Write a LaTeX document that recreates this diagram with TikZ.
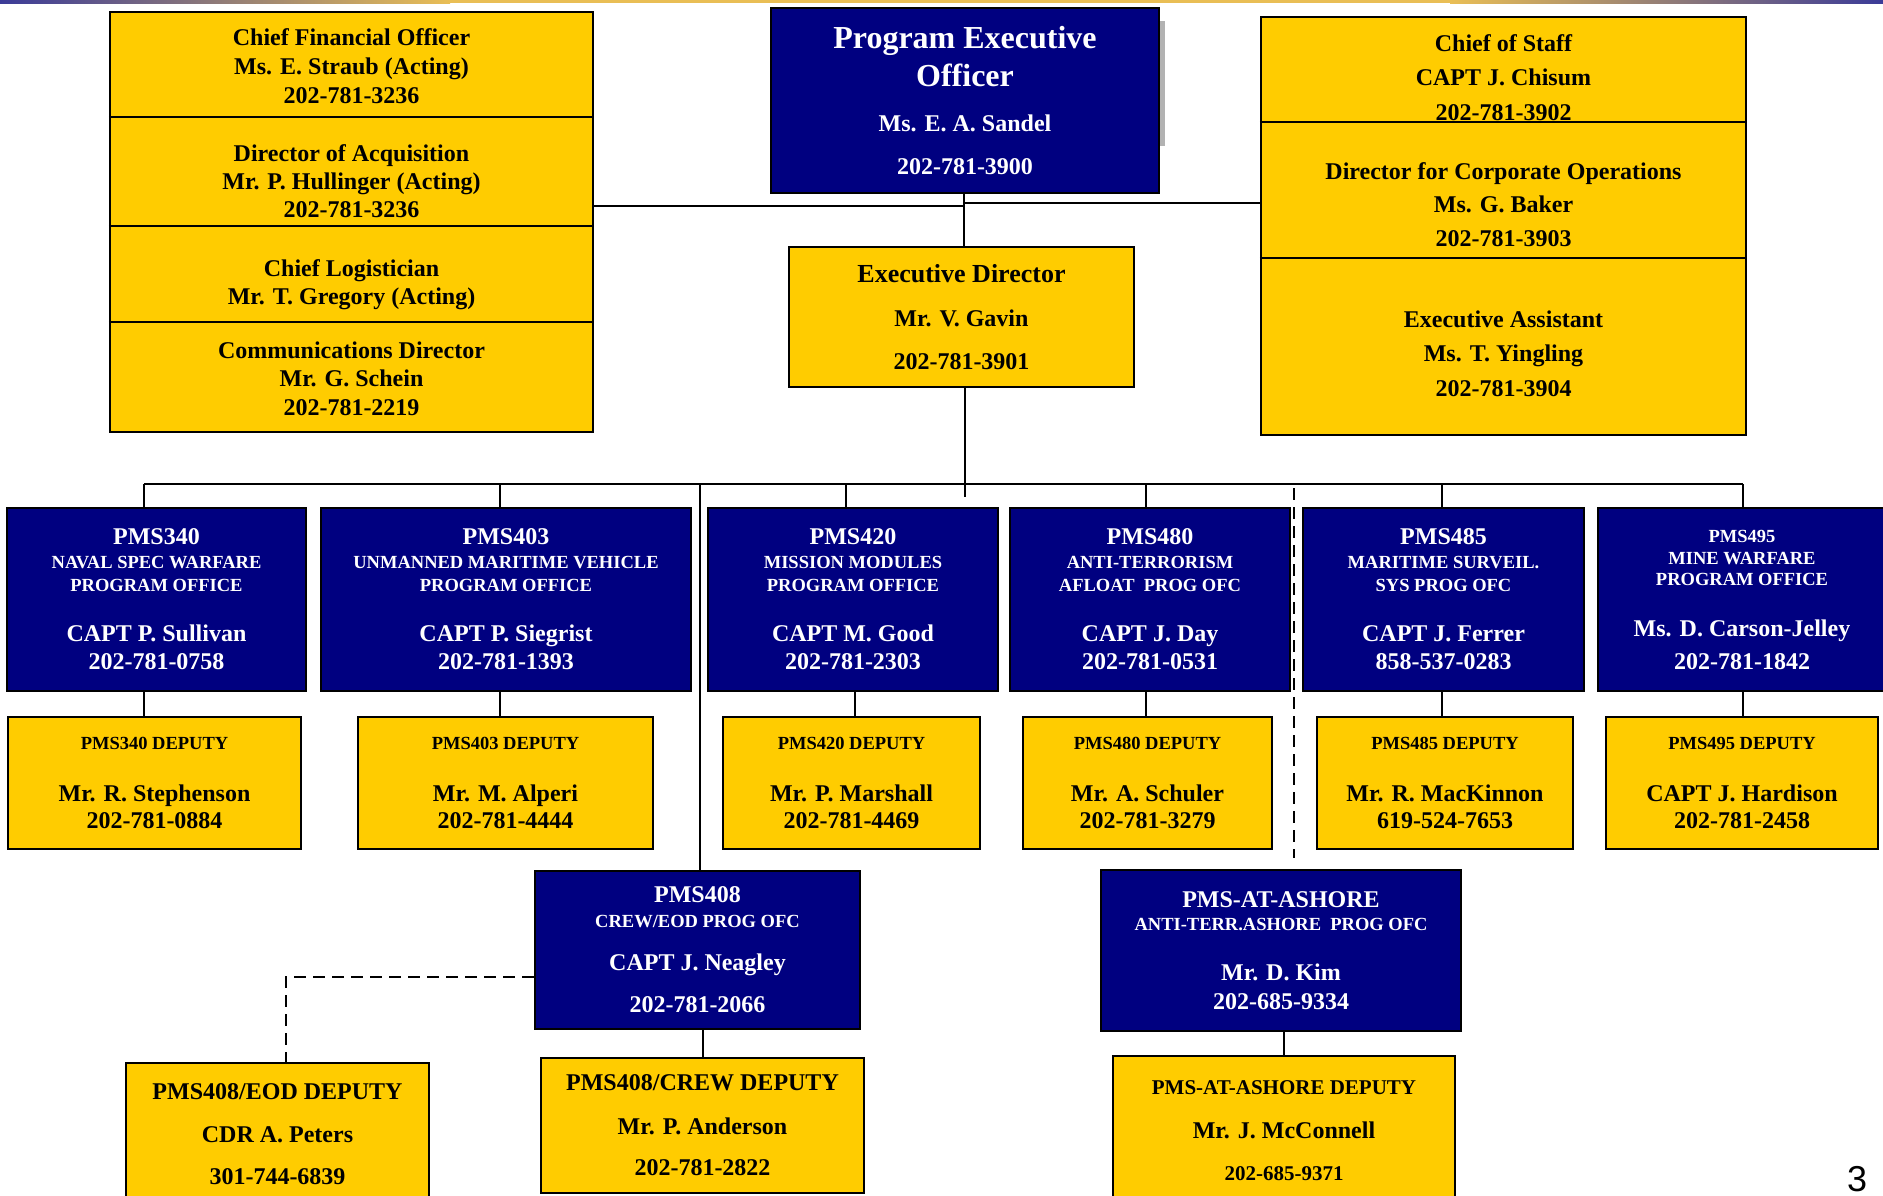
\documentclass[tikz,border=0pt]{standalone}
\usepackage{fontspec}
\setmainfont{Liberation Serif}
\newfontfamily\pagefont{Liberation Sans}
\usetikzlibrary{positioning}

\definecolor{pmsblue}{HTML}{000080}
\definecolor{staffgold}{HTML}{FFCC00}
\definecolor{barblue}{HTML}{3B3B98}
\definecolor{bargold}{HTML}{E9BE55}

\newcommand{\subsz}[1]{{\fontsize{18.5}{18.5}\selectfont #1}}
\newcommand{\midsz}[1]{{\fontsize{21}{21}\selectfont #1}}

\begin{document}
\begin{tikzpicture}[
x = 1pt, % one pixel of the slide
y = -1pt, % rows count downward
line width = 2pt % connector lines
]
\tikzstyle{bluebox}=[
draw = black,
line width = 2.5pt,
fill = pmsblue,
text = white,
align = center,
inner sep = 0pt,
font = \bfseries\fontsize{24}{24}\selectfont
]
\tikzstyle{goldbox}=[bluebox, fill = staffgold, text = black]
\tikzstyle{stafftext}=[align = center, inner sep = 0pt, font = \bfseries\fontsize{24}{29}\selectfont]
\tikzstyle{dashlink}=[line width = 2.3pt, dash pattern = on 12pt off 7pt]

\useasboundingbox (0,0) rectangle (1883,1196);
% banner along the top edge
\shade[left color=barblue, right color=bargold] (0,0) rectangle (450,3.5);
\fill[bargold] (450,0) rectangle (1450,3.5);
\shade[left color=bargold, right color=barblue] (1450,0) rectangle (1883,3.5);

% front office
\fill[gray!60] (1160,21) rectangle (1165,146);
\node[bluebox, minimum width=388pt, minimum height=185pt, font=\bfseries\fontsize{24}{38}\selectfont] (peo) at (965,100.5)
  {{\fontsize{32}{32}\selectfont Program Executive}\\{\fontsize{32}{32}\selectfont Officer}\\[6.5pt] Ms. E. A. Sandel\\[5pt] 202-781-3900};
\node[goldbox, minimum width=345pt, minimum height=140pt] (ed) at (961.5,317)
  {{\fontsize{26}{26}\selectfont Executive Director}\\[20pt] Mr. V. Gavin\\[19pt] 202-781-3901};

% staff on the left
\node[goldbox, minimum width=483pt, minimum height=420pt] (staffl) at (351.5,222) {};
\foreach \y in {117,226,322}
  \draw[line width=2.5pt] (staffl.west |- 0,\y) -- (staffl.east |- 0,\y);
\node[stafftext] (cfo) at (351.5,66.3) {Chief Financial Officer\\Ms. E. Straub (Acting)\\202-781-3236};
\node[stafftext] (acq) at (351.5,180.8) {Director of Acquisition\\[-1pt] Mr. P. Hullinger (Acting)\\[-1pt] 202-781-3236};
\node[stafftext] (log) at (351.5,284.5) {Chief Logistician\\[-1pt] Mr. T. Gregory (Acting)};
\node[stafftext] (comm) at (351.5,378.3) {Communications Director\\[-1pt] Mr. G. Schein\\ 202-781-2219};

% staff on the right
\node[goldbox, minimum width=485pt, minimum height=418pt] (staffr) at (1503.5,226) {};
\foreach \y in {122,258}
  \draw[line width=2.5pt] (staffr.west |- 0,\y) -- (staffr.east |- 0,\y);
\node[stafftext, font=\bfseries\fontsize{24}{34.5}\selectfont] (cos) at (1503.5,77.3) {Chief of Staff\\CAPT J. Chisum\\202-781-3902};
\node[stafftext, font=\bfseries\fontsize{24}{33.5}\selectfont] (dco) at (1503.5,204.3) {Director for Corporate Operations\\Ms. G. Baker\\202-781-3903};
\node[stafftext, font=\bfseries\fontsize{24}{34.5}\selectfont] (ea) at (1503.5,353.3) {Executive Assistant\\Ms. T. Yingling\\202-781-3904};

% program offices
\node[bluebox, minimum width=299pt, minimum height=183pt] (pms340) at (156.5,599.5)
  {PMS340\\ \subsz{NAVAL SPEC WARFARE}\\[-1pt] \subsz{PROGRAM OFFICE}\\[26pt] CAPT P. Sullivan\\[4pt] 202-781-0758};
\node[bluebox, minimum width=370pt, minimum height=183pt] (pms403) at (506,599.5)
  {PMS403\\ \subsz{UNMANNED MARITIME VEHICLE}\\[-1pt] \subsz{PROGRAM OFFICE}\\[26pt] CAPT P. Siegrist\\[4pt] 202-781-1393};
\node[bluebox, minimum width=290pt, minimum height=183pt] (pms420) at (853,599.5)
  {PMS420\\ \subsz{MISSION MODULES}\\[-1pt] \subsz{PROGRAM OFFICE}\\[26pt] CAPT M. Good\\[4pt] 202-781-2303};
\node[bluebox, minimum width=280pt, minimum height=183pt] (pms480) at (1150,599.5)
  {PMS480\\ \subsz{ANTI-TERRORISM}\\[-1pt] \subsz{AFLOAT~ PROG OFC}\\[26pt] CAPT J. Day\\[4pt] 202-781-0531};
\node[bluebox, minimum width=281pt, minimum height=183pt] (pms485) at (1443.5,599.5)
  {PMS485\\ \subsz{MARITIME SURVEIL.}\\[-1pt] \subsz{SYS PROG OFC}\\[26pt] CAPT J. Ferrer\\[4pt] 858-537-0283};
\node[bluebox, minimum width=288pt, minimum height=183pt] (pms495) at (1742,599.5)
  {\subsz{PMS495}\\[-2pt] \subsz{MINE WARFARE}\\[-3pt] \subsz{PROGRAM OFFICE}\\[27pt] Ms. D. Carson-Jelley\\[9pt] 202-781-1842};

% deputies
\node[goldbox, minimum width=293pt, minimum height=132pt] (dep340) at (154.5,783)
  {\subsz{PMS340 DEPUTY}\\[28pt] Mr. R. Stephenson\\[3pt] 202-781-0884};
\node[goldbox, minimum width=295pt, minimum height=132pt] (dep403) at (505.5,783)
  {\subsz{PMS403 DEPUTY}\\[28pt] Mr. M. Alperi\\[3pt] 202-781-4444};
\node[goldbox, minimum width=257pt, minimum height=132pt] (dep420) at (851.5,783)
  {\subsz{PMS420 DEPUTY}\\[28pt] Mr. P. Marshall\\[3pt] 202-781-4469};
\node[goldbox, minimum width=249pt, minimum height=132pt] (dep480) at (1147.5,783)
  {\subsz{PMS480 DEPUTY}\\[28pt] Mr. A. Schuler\\[3pt] 202-781-3279};
\node[goldbox, minimum width=256pt, minimum height=132pt] (dep485) at (1445,783)
  {\subsz{PMS485 DEPUTY}\\[28pt] Mr. R. MacKinnon\\[3pt] 619-524-7653};
\node[goldbox, minimum width=272pt, minimum height=132pt] (dep495) at (1742,783)
  {\subsz{PMS495 DEPUTY}\\[28pt] CAPT J. Hardison\\[3pt] 202-781-2458};

% lower offices
\node[bluebox, minimum width=325pt, minimum height=158pt] (pms408) at (697.5,950)
  {PMS408\\[1pt] \subsz{CREW/EOD PROG OFC}\\[19pt] CAPT J. Neagley\\[18pt] 202-781-2066};
\node[goldbox, minimum width=303pt, minimum height=143pt] (eod) at (277.5,1134.5)
  {PMS408/EOD DEPUTY\\[19pt] CDR A. Peters\\[18pt] 301-744-6839};
\node[goldbox, minimum width=323pt, minimum height=135pt] (crew) at (702.5,1125.5)
  {PMS408/CREW DEPUTY\\[20pt] Mr. P. Anderson\\[17pt] 202-781-2822};
\node[bluebox, minimum width=360pt, minimum height=161pt] (ashore) at (1281,950.5)
  {PMS-AT-ASHORE\\[-1pt] \subsz{ANTI-TERR.ASHORE~ PROG OFC}\\[26pt] Mr. D. Kim\\[5pt] 202-685-9334};
\node[goldbox, minimum width=342pt, minimum height=150pt] (dashore) at (1284,1131)
  {\midsz{PMS-AT-ASHORE DEPUTY}\\[20pt] Mr. J. McConnell\\[18pt] \midsz{202-685-9371}};

% connectors
\coordinate (jl) at (964,206);
\coordinate (jr) at (964,203);
\draw (peo.south -| jl) -- (ed.north -| jl);
\draw (staffl.east |- jl) -- (jl);
\draw (jr) -- (staffr.west |- jr);
\coordinate (edtail) at (965,497);
\draw (edtail |- ed.south) -- (edtail);
\foreach \n/\x/\t in {340/144/144, 403/500/500, 420/846/855, 480/1146/1146, 485/1442/1442, 495/1743/1743} {
  \coordinate (b\n) at (\x,484);
  \coordinate (t\n) at (\t,700);
  \draw (b\n) -- (b\n |- pms\n.north);
  \draw (t\n |- pms\n.south) -- (t\n |- dep\n.north);
}
\draw (b340) -- (b495);
\coordinate (b408) at (700,484);
\draw (b408) -- (b408 |- pms408.north);
\coordinate (bdash) at (1294,484);
\draw[dashlink, shorten <=4pt, shorten >=11pt] (bdash) -- (bdash |- ashore.north);
\draw (crew.north |- pms408.south) -- (crew.north);
\coordinate (eodtop) at (286,977);
\draw[dashlink] (pms408.west |- eodtop) -- (eodtop) -- (eodtop |- eod.north);
\draw (dashore.north |- ashore.south) -- (dashore.north);

\node[font=\pagefont\fontsize{36}{36}\selectfont, inner sep=0pt] (pgnum) at (1857,1179) {3};
\end{tikzpicture}
\end{document}
